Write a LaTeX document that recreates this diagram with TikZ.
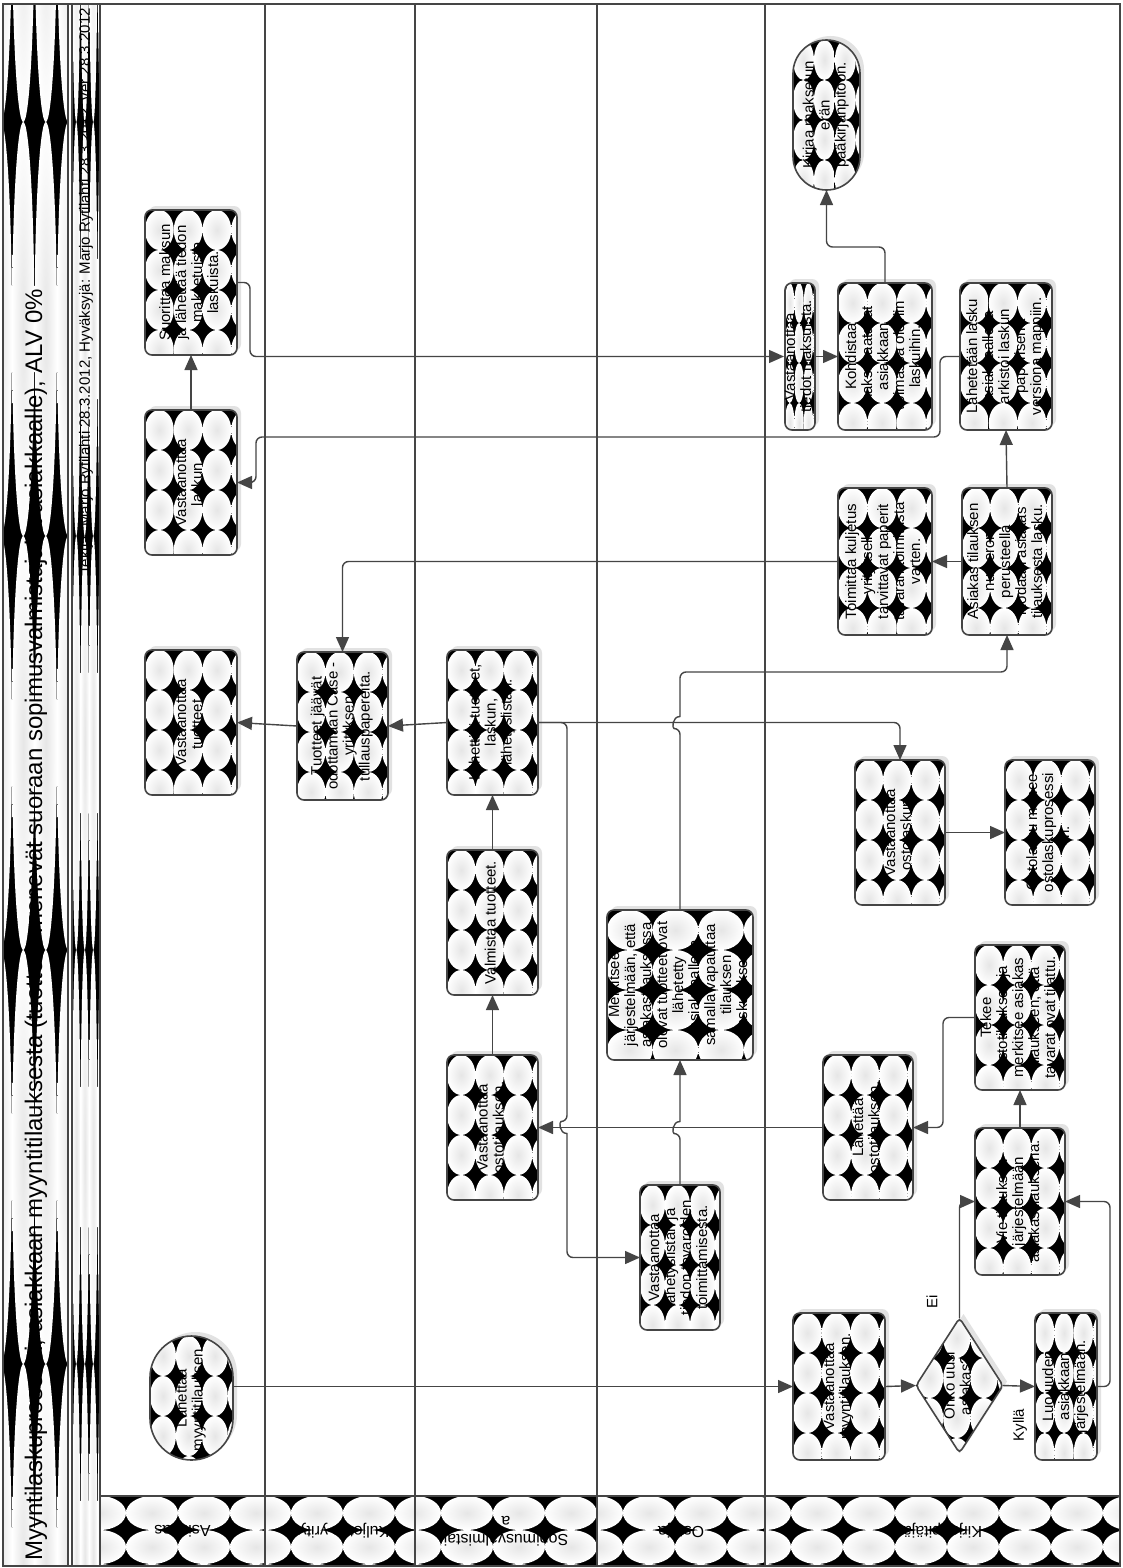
\documentclass[tikz,border=0pt]{standalone}
\usepackage{fontspec}
\setmainfont{Liberation Sans}
\usepackage{graphicx}
\usetikzlibrary{arrows.meta,calc}
\definecolor{ln}{HTML}{454545}
\definecolor{shd}{HTML}{E2E2E2}
\definecolor{cellc}{HTML}{E6E6E6}
\tikzset{
  bline/.style={draw=ln, line width=1.6pt},
  conn/.style={draw=ln, line width=1.4pt, rounded corners=6pt, -{Triangle[length=15pt,width=13pt]}},
  hold/.style={inner sep=0pt, outer sep=0pt, font=\fontsize{15}{16}\selectfont},
  lab/.style={inner sep=1pt, font=\fontsize{15}{16}\selectfont, rotate=90},
}
\newcommand\rt[1]{\rotatebox{90}{\begin{tabular}{@{}c@{}}#1\end{tabular}}}
\newcommand\patcells[6]{%
  \pgfmathsetmacro\pdx{#5}\pgfmathsetmacro\pdy{#6}%
  \fill[black] (#1,#2) rectangle (#3,#4);
  \pgfmathtruncatemacro\pnx{ceil((#3-#1)/\pdx)}%
  \pgfmathtruncatemacro\pny{ceil((#4-#2)/\pdy)}%
  \foreach \ii in {0,...,\pnx}{\foreach \jj in {0,...,\pny}{%
    \shade[inner color=cellc, outer color=white] ({#1+(\ii+0.5)*\pdx},{#2+(\jj+0.5)*\pdy}) ellipse [x radius={\pdx*0.5pt}, y radius={\pdy*0.5pt}];
  }}%
}
\newcommand\rbox[6]{%
  \fill[shd, rounded corners=7pt] ({#2+4},{#3-4}) rectangle ({#4+4},{#5-4});
  \begin{scope}
    \clip[rounded corners=7pt] (#2,#3) rectangle (#4,#5);
    \patcells{#2}{#3}{#4}{#5}{(#4-#2)/3.2}{40}
  \end{scope}
  \draw[bline, rounded corners=7pt] (#2,#3) rectangle (#4,#5);
  \node[hold, minimum width={(#4-#2)*1pt}, minimum height={(#5-#3)*1pt}] (#1) at ({(#2+#4)/2},{(#3+#5)/2}) {\rt{#6}};
}
\newcommand\stad[6]{%
  \pgfmathsetmacro\rr{(#4-#2)/2}%
  \fill[shd, rounded corners=\rr pt] ({#2+4},{#3-4}) rectangle ({#4+4},{#5-4});
  \begin{scope}
    \clip[rounded corners=\rr pt] (#2,#3) rectangle (#4,#5);
    \patcells{#2}{#3}{#4}{#5}{(#4-#2)/3.2}{40}
  \end{scope}
  \draw[bline, rounded corners=\rr pt] (#2,#3) rectangle (#4,#5);
  \node[hold, minimum width={(#4-#2)*1pt}, minimum height={(#5-#3)*1pt}] (#1) at ({(#2+#4)/2},{(#3+#5)/2}) {\rt{#6}};
}
\newcommand\diam[6]{%
  \fill[shd] ({(#2+#4)/2+4},{#3-4}) -- ({#4+4},{(#3+#5)/2-4}) -- ({(#2+#4)/2+4},{#5-4}) -- ({#2+4},{(#3+#5)/2-4}) -- cycle;
  \begin{scope}
    \clip ({(#2+#4)/2},#3) -- (#4,{(#3+#5)/2}) -- ({(#2+#4)/2},#5) -- (#2,{(#3+#5)/2}) -- cycle;
    \patcells{#2}{#3}{#4}{#5}{(#4-#2)/3.2}{40}
  \end{scope}
  \draw[bline, rounded corners=4pt] ({(#2+#4)/2},#3) -- (#4,{(#3+#5)/2}) -- ({(#2+#4)/2},#5) -- (#2,{(#3+#5)/2}) -- cycle;
  \node[hold, minimum width={(#4-#2)*1pt}, minimum height={(#5-#3)*1pt}] (#1) at ({(#2+#4)/2},{(#3+#5)/2}) {\rt{#6}};
}
\newcommand\lanehead[4]{%
  \begin{scope}
    \clip (#2,1496) rectangle (#3,1566);
    \patcells{#2-26}{1496}{#3}{1566}{52}{34}
  \end{scope}
  \node[font=\fontsize{16}{18}\selectfont, rotate=180, align=center, inner sep=0pt] (#1) at ({(#2+#3)/2},1531) {#4};
}
\begin{document}
\begin{tikzpicture}[x=1pt,y=-1pt]
\useasboundingbox (0,0) rectangle (1122,1568);
\fill[white] (0,0) rectangle (1122,1568);
% title strips
\begin{scope}
  \clip (3,4) rectangle (68,1566);
  \patcells{-10.5}{-292}{80}{1700}{22.5}{414}
\end{scope}
\begin{scope}
  \clip (72,4) rectangle (100,1566);
  \patcells{72}{-292}{101}{1700}{8.5}{414}
\end{scope}
% lane headers
\lanehead{hA}{100}{265}{Asiakas}
\lanehead{hK}{265}{415}{Kuljetus yritys}
\lanehead{hS}{415}{597}{Sopimusvalmistaj\\a}
\lanehead{hO}{597}{765}{Ostaja}
\lanehead{hR}{765}{1120}{Kirjanpitäjä}
% frame
\draw[bline] (3,4) rectangle (1120,1566);
\draw[bline] (68,4) -- (68,1566);
\draw[bline] (72,4) -- (72,1566);
\draw[bline] (100,4) -- (100,1566);
\foreach \xx in {265,415,597,765} \draw[bline] (\xx,4) -- (\xx,1566);
\draw[bline] (100,1496) -- (1120,1496);
% title texts
\node[font=\fontsize{24}{28}\selectfont, rotate=90, anchor=west, inner sep=0pt] (title) at (36,1561) {Myyntilaskuprosessi, asiakkaan myyntitilauksesta (tuotteet menevät suoraan sopimusvalmistajalta asiakkaalle), ALV 0\%};
\node[font=\fontsize{15}{16}\selectfont, rotate=90, anchor=east, inner sep=0pt] (author) at (86,8) {Tekijä: Marjo Rytilahti 28.3.2012, Hyväksyjä: Marjo Rytilahti 28.3.2012, ver 28.3.2012};
% Asiakas
\stad{a1}{150}{1336}{233}{1460}{Lähettää\\myyntitilauksen.}
\rbox{a2}{145}{650}{237}{795}{Vastaanottaa\\tuotteet.}
\rbox{a3}{145}{410}{237}{555}{Vastaanottaa\\laskun.}
\rbox{a4}{145}{210}{237}{355}{Suorittaa maksun\\ja lähettää tiedon\\maksetuista\\laskuista.}
% Kuljetus
\rbox{k1}{297}{652}{388}{800}{Tuotteet jäävät\\odottamaan Case -\\yrityksen\\tullauspapereita.}
% Sopimusvalmistaja
\rbox{s1}{447}{650}{538}{795}{Lähettää tuotteet,\\laskun,\\lähetyslistan.}
\rbox{s2}{447}{850}{538}{995}{Valmistaa tuotteet.}
\rbox{s3}{447}{1055}{538}{1200}{Vastaanottaa\\ostotilauksen.}
% Ostaja
\rbox{o1}{607}{910}{753}{1060}{Merkitsee\\järjestelmään, että\\asiakastilauksessa\\olevat tuotteet ovat\\lähetetty\\asiakkaalle ja\\samalla vapauttaa\\tilauksen\\laskutukseen.}
\rbox{o2}{640}{1185}{720}{1330}{Vastaanottaa\\lähetyslistan ja\\tiedon tavaroiden\\toimittamisesta.}
% Kirjanpitaja
\rbox{r1}{793}{1313}{885}{1460}{Vastaanottaa\\myyntitilauksen.}
\diam{r2}{916}{1318}{1003}{1453}{Onko uusi\\asiakas?}
\rbox{r3}{1035}{1313}{1097}{1460}{Luo uuden\\asiakkaan\\järjestelmään.}
\rbox{r4}{975}{1128}{1065}{1275}{Vie tilauksen\\järjestelmään\\asiakastilauksena.}
\rbox{r5}{975}{945}{1065}{1090}{Tekee\\ostotilauksen ja\\merkitsee asiakas\\tilaukseen, että\\tavarat ovat tilattu.}
\rbox{r6}{823}{1055}{913}{1200}{Lähettää\\ostotilauksen.}
\rbox{r7}{855}{760}{945}{905}{Vastaanottaa\\ostolaskun.}
\rbox{r8}{1005}{760}{1095}{905}{Ostolasku menee\\ostolaskuprosessi\\n.}
\rbox{r9}{838}{488}{932}{635}{Toimittaa kuljetus\\yritykselle\\tarvittavat paperit\\tavaran toimitusta\\varten.}
\rbox{r10}{962}{488}{1052}{635}{Asiakas tilauksen\\numeron\\perusteella\\luodaan asiakas\\tilauksesta lasku.}
\rbox{r11}{960}{283}{1052}{430}{Lähetetään lasku\\asiakkaalle ja\\arkistoi laskun\\paperisena\\versiona mappiin.}
\rbox{r12}{838}{283}{932}{430}{Kohdistaa\\maksusaatavat\\asiakkaan\\voimassa oleviin\\laskuihin.}
\rbox{r13}{785}{283}{815}{430}{Vastaanottaa\\tiedot maksuista.}
\stad{r14}{793}{40}{860}{190}{Kirjaa maksetun\\erän\\pääkirjanpitoon.}
% connectors
\draw[conn] (a1.east |- r1.west) -- (r1.west);
\draw[conn] (r1.east) -- (r2.west);
\draw[conn] (r2.east) -- (r3.west);
\draw[conn] (r2.north) |- (r4.west);
\draw[conn] (r3.east) -- (1110,1386.5) -- (1110,1201.5) -- (r4.east);
\draw[conn] (r4.north) -- (r5.south);
\draw[conn] (r5.west) -- (943,1017.5) -- (943,1127.5) -- (r6.east);
\draw[conn] (r6.west) -- (s3.east);
\draw[conn] (s3.north) -- (s2.south);
\draw[conn] (s2.north) -- (s1.south);
\draw[conn] (s1.east) -- (567,722.5) -- (567,1121.5) [sharp corners] .. controls (559,1121.5) and (559,1133.5) .. (567,1133.5) [rounded corners=6pt] -- (567,1257.5) -- (o2.west);
\draw[conn] (s1.east) -| (r7.north);
\draw[conn] (s1.west) -- (k1.east);
\draw[conn] (k1.west) -- (a2.east);
\draw[conn] (r9.west) -| (k1.north);
\draw[conn] (r10.west) -- (r9.east);
\draw[conn] (o2.north) -- (680,1133.5) [sharp corners] .. controls (672,1133.5) and (672,1121.5) .. (680,1121.5) [rounded corners=6pt] -- (o1.south);
\draw[conn] (o1.north) -- (680,728.5) [sharp corners] .. controls (672,728.5) and (672,716.5) .. (680,716.5) [rounded corners=6pt] -- (680,672) -- (1007,672) -- (r10.south);
\draw[conn] (r10.north) -- (r11.south);
\draw[conn] (r11.west) -- (940,356.5) -- (940,437) -- (256,437) -- (256,482.5) -- (a3.east);
\draw[conn] (a3.north) -- (a4.south);
\draw[conn] (a4.east) -- (250,282.5) -- (250,356.5) -- (r13.west);
\draw[conn] (r13.east) -- (r12.west);
\draw[conn] (r12.north) -- (885,247) -- (826.5,247) -- (r14.south);
\draw[conn] (r7.east) -- (r8.west);
% labels
\node[lab] (lk) at (1020,1425) {Kyllä};
\node[lab] (le) at (932,1302) {Ei};
\end{tikzpicture}
\end{document}
